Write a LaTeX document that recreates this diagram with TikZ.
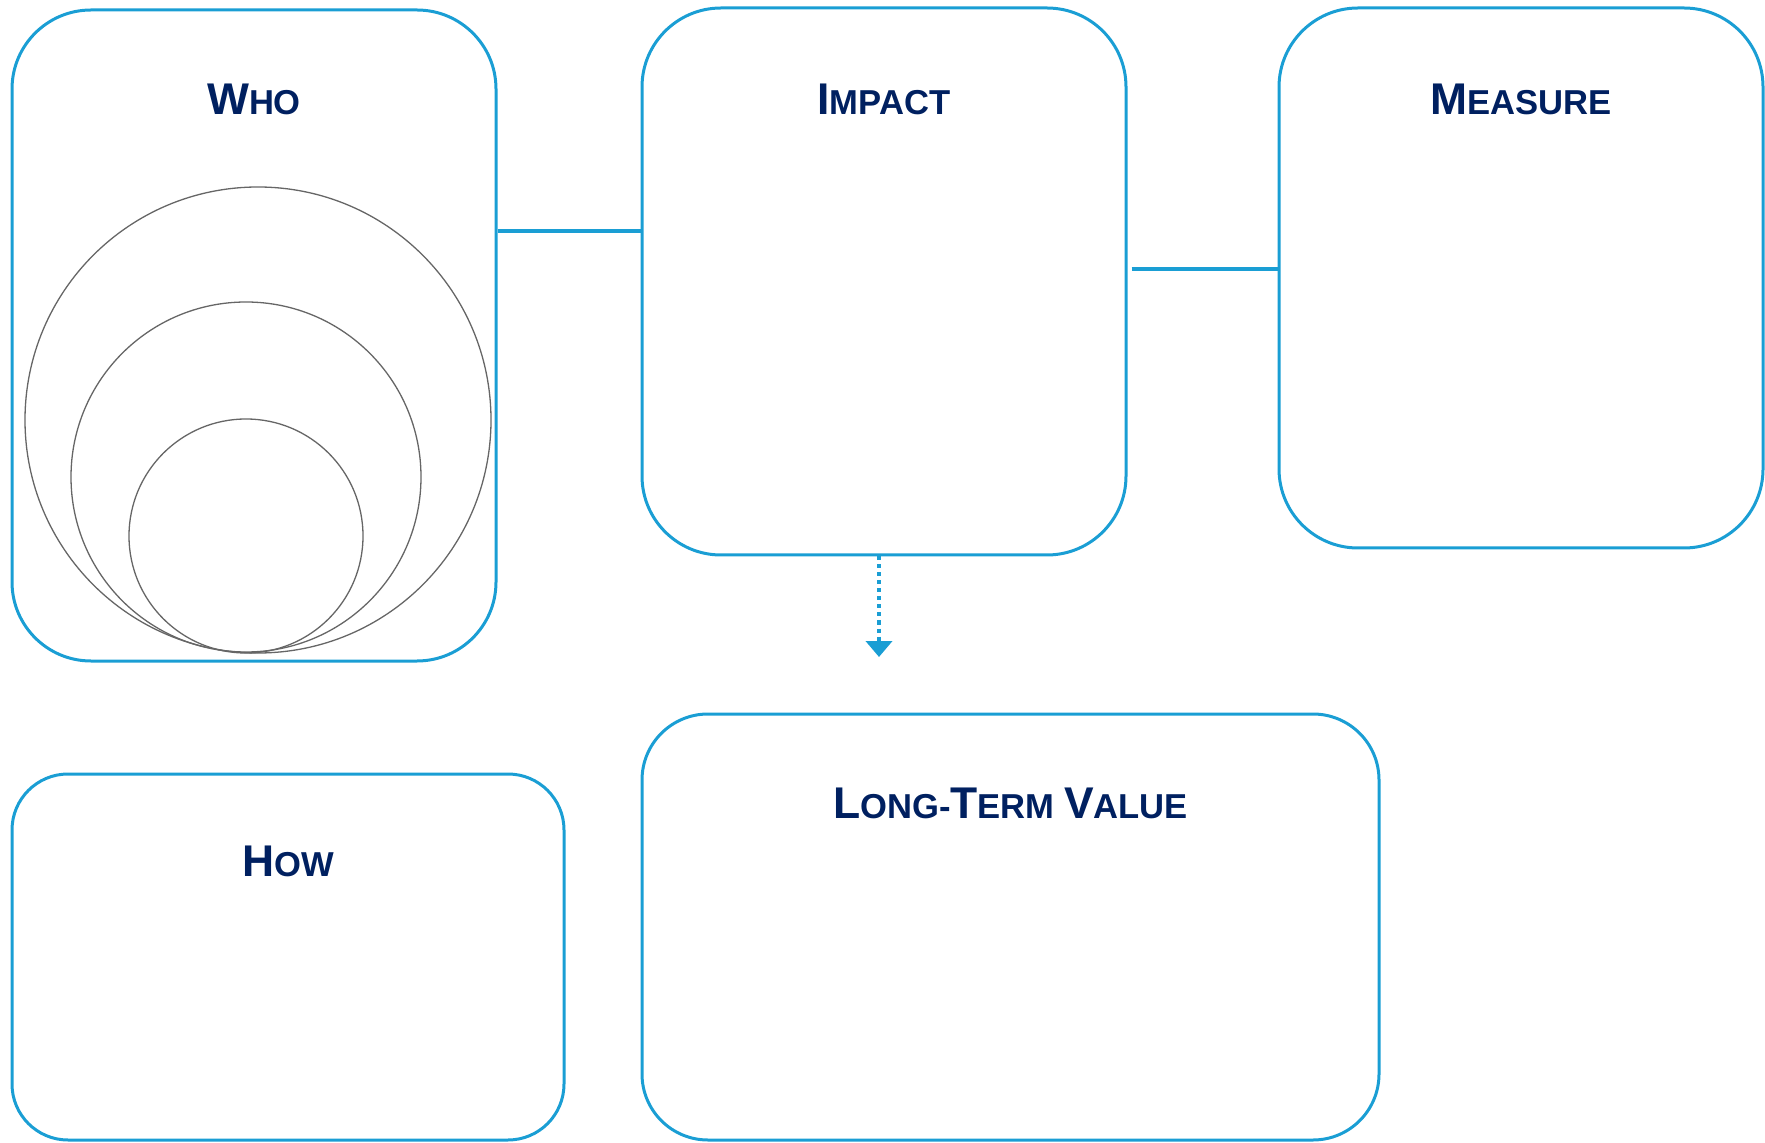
\documentclass[tikz,border=0pt]{standalone}
\usepackage{fontspec}
\setmainfont{Liberation Sans}
\usetikzlibrary{arrows.meta, positioning, shapes.geometric}
\definecolor{frameblue}{HTML}{1A9ED4}
\definecolor{titlenavy}{HTML}{002060}
\newcommand{\SC}[2]{{\fontsize{22.2}{26}\selectfont #1}{\fontsize{17.3}{20}\selectfont #2}}
\tikzset{
    panel/.style={rectangle, draw=frameblue, line width=1.5pt, inner sep=0pt, minimum width=242pt, rounded corners=39.5pt},
    heading/.style={font=\bfseries, text=titlenavy, anchor=base, inner sep=0pt},
    link/.style={draw=frameblue, line width=2pt},
    ring/.style={circle, draw=black!60, line width=0.65pt, inner sep=0pt},
}

\begin{document}
\begin{tikzpicture}[x=0.5pt, y=-0.5pt]
    \useasboundingbox (0,0) rectangle (1765,1143);

    \node[panel, minimum height=325.5pt] (who) at (254,335.5) {};
    \node[panel, minimum height=273.5pt] (impact) at (884,281.5) {};
    \node[panel, minimum height=270pt] (measure) at (1521,278) {};
    \node[panel, minimum width=276pt, minimum height=183pt, rounded corners=28pt] (how) at (288,957) {};
    \node[panel, minimum width=368.5pt, minimum height=213pt, rounded corners=33pt] (value) at (1010.5,927) {};

    \node[heading] (whoT) at ([yshift=-53pt]who.north) {\SC{W}{HO}};
    \node[heading] (impactT) at ([yshift=-54pt]impact.north) {\SC{I}{MPACT}};
    \node[heading] (measureT) at ([yshift=-54pt]measure.north) {\SC{M}{EASURE}};
    \node[heading] (howT) at ([yshift=-52pt]how.north) {\SC{H}{OW}};
    \node[heading] (valueT) at ([yshift=-53pt]value.north) {\SC{L}{ONG-}\SC{T}{ERM~}\SC{V}{ALUE}};

    \node[ring, minimum size=233pt] (outer) at (258,420) {};
    \node[ring, minimum size=175pt] (middle) at (246,477) {};
    \node[ring, minimum size=117pt] (inner) at (246,536) {};

    \draw[link] ([yshift=52pt]who.east) -- ([yshift=52pt]who.east -| impact.west);
    \draw[link] ([xshift=2pt, yshift=6pt]impact.east) -- ([yshift=6pt]impact.east -| measure.west);

    \coordinate (drop) at (879,657);
    \draw[link, dash pattern=on 2pt off 2pt, -{Triangle[width=13pt, length=8pt]}] (impact.south -| drop) -- (drop);
\end{tikzpicture}
\end{document}
